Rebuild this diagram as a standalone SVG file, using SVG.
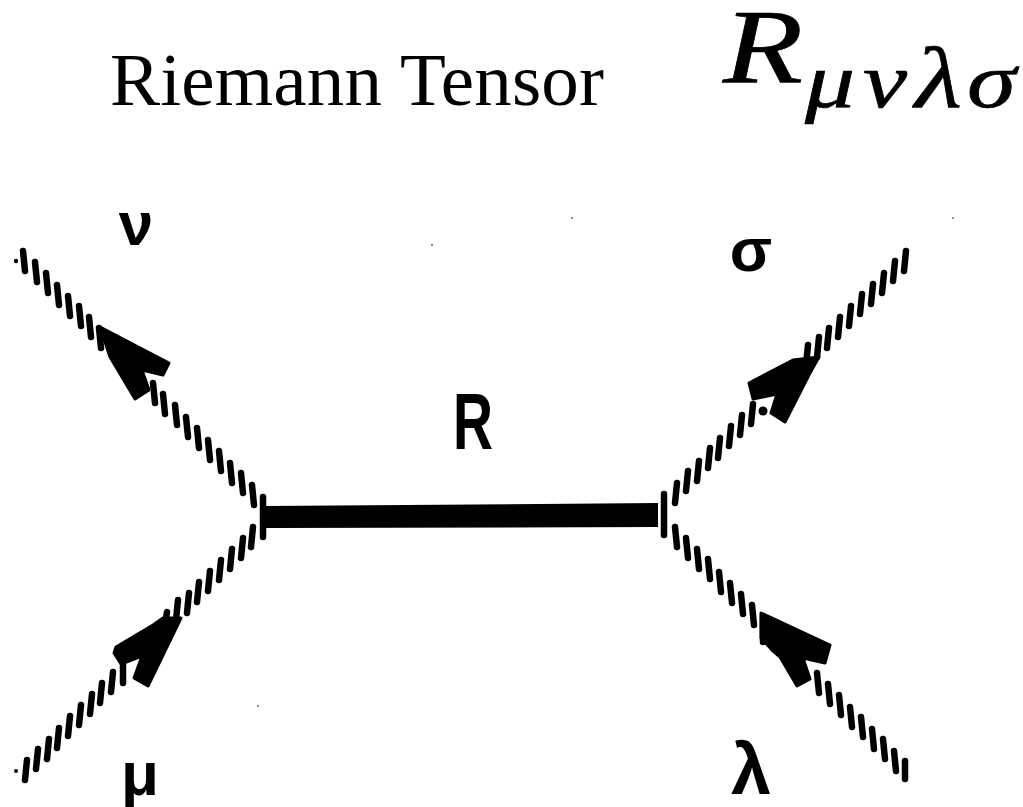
<svg xmlns="http://www.w3.org/2000/svg" width="1023" height="807" viewBox="0 0 1023 807">
<style>
.tick{fill:none;stroke:#000;stroke-width:6.5;stroke-linecap:round}
.head{fill:#000;stroke:#000;stroke-width:3;stroke-linejoin:round}
.lab{font-family:"Liberation Sans",Arial,sans-serif;font-weight:700;fill:#000}
.serif{font-family:"Liberation Serif","Times New Roman",serif;fill:#000}
.math{font-family:"Liberation Serif","Times New Roman",serif;font-style:italic;fill:#000;stroke:#000;stroke-width:.7}
</style>
<rect width="1023" height="807" fill="#fff"/>
<g id="title"><text class="serif" x="110" y="105" font-size="75" textLength="494">Riemann Tensor</text></g>
<g id="formula">
<text class="math" x="723" y="82" font-size="106" textLength="80" lengthAdjust="spacingAndGlyphs">R</text>
<text class="math" x="805" y="107" font-size="78" textLength="50" lengthAdjust="spacingAndGlyphs">μ</text>
<text class="math" x="863" y="107" font-size="78" textLength="44" lengthAdjust="spacingAndGlyphs">ν</text>
<text class="math" x="915" y="107" font-size="86" textLength="47" lengthAdjust="spacingAndGlyphs">λ</text>
<text class="math" x="967" y="107" font-size="78" textLength="49" lengthAdjust="spacingAndGlyphs">σ</text>
</g>
<g id="connectors">
<path id="line-nu" class="tick" d="M23 251l2 20M35 262l2 20M46 273l2 20M57 285l2 20M68 296l2 20M79 306l2 20M89 317l2 20M99 328l2 20M153 383l2 20M163 394l2 20M175 405l2 20M186 417l2 20M197 428l2 20M208 440l2 20M219 451l2 20M230 463l2 20M241 473l2 20M252 485l2 20"/>
<path id="line-mu" class="tick" d="M27 760l-2 20M38 749l-2 20M49 739l-2 20M59 728l-2 20M70 716l-2 20M81 705l-2 20M92 694l-2 20M102 683l-2 20M113 672l-2 20M123 663v20M167 612l-2 12M178 600l-2 20M189 593l-2 20M199 582l-2 20M210 571l-2 20M221 560l-2 20M232 549l-2 20M243 538l-2 20M253 527l-2 20"/>
<path id="line-sigma" class="tick" d="M906 251l-2 20M895 261l-2 20M884 273l-2 20M873 284l-2 20M862 294l-2 20M851 306l-2 20M840 317l-2 20M829 328l-2 20M819 337l-2 20M808 345l-2 20M753 404l-2 20M742 415l-2 20M731 426l-2 20M720 438l-2 20M710 448l-2 20M699 461l-2 20M688 471l-2 20M677 483l-2 20"/>
<path id="line-lambda" class="tick" d="M675 527l2 20M686 538l2 20M697 549l2 20M708 559l2 20M719 572l2 20M730 583l2 20M741 594l2 20M752 605l2 20M763 617v25M817 673l2 20M828 684l2 20M839 695l2 20M850 707l2 20M861 717l2 20M872 729l2 20M883 739l2 20M894 751l2 20M905 761v18"/>
<path id="line-R" fill="#000" d="M266 506L658 503L658 527L266 528Z"/>
<path id="cap-left" class="tick" d="M263 497v40"/>
<path id="cap-right" class="tick" d="M664 494v41"/>
<polygon id="arrow-nu" class="head" points="100,327 169,363 163,375 142,370 149,390 135,399 110,357"/>
<polygon id="arrow-mu" class="head" points="181,618 163,618 153,625 116,647 114,653 121,664 142,656 134,678 148,686"/>
<polygon id="arrow-sigma" class="head" points="819,357 793,360 749,383 753,399 777,394 771,413 785,422 810,373"/>
<polygon id="arrow-lambda" class="head" points="761,613 830,645 825,663 803,658 810,679 797,686 780,657 772,650 761,638"/>
</g>
<g id="label-nu"><text class="lab" x="136" y="245" font-size="62" text-anchor="middle">ν</text></g>
<g id="label-sigma"><text class="lab" x="751" y="271" font-size="62" text-anchor="middle">σ</text></g>
<g id="label-R"><text class="lab" x="453" y="449" font-size="79" textLength="40" lengthAdjust="spacingAndGlyphs">R</text></g>
<g id="label-mu"><text class="lab" x="140" y="795" font-size="62" text-anchor="middle">μ</text></g>
<g id="label-lambda"><text class="lab" x="751" y="794" font-size="72" text-anchor="middle">λ</text></g>
<g id="specks" fill="#000">
<circle cx="16" cy="261" r="2.2"/><circle cx="16" cy="771" r="2"/><circle cx="763" cy="411" r="4.5"/>
<circle cx="432" cy="245" r=".8"/><circle cx="572" cy="218" r=".8"/><circle cx="953" cy="218" r=".8"/><circle cx="258" cy="706" r=".8"/>
</g>
</svg>
